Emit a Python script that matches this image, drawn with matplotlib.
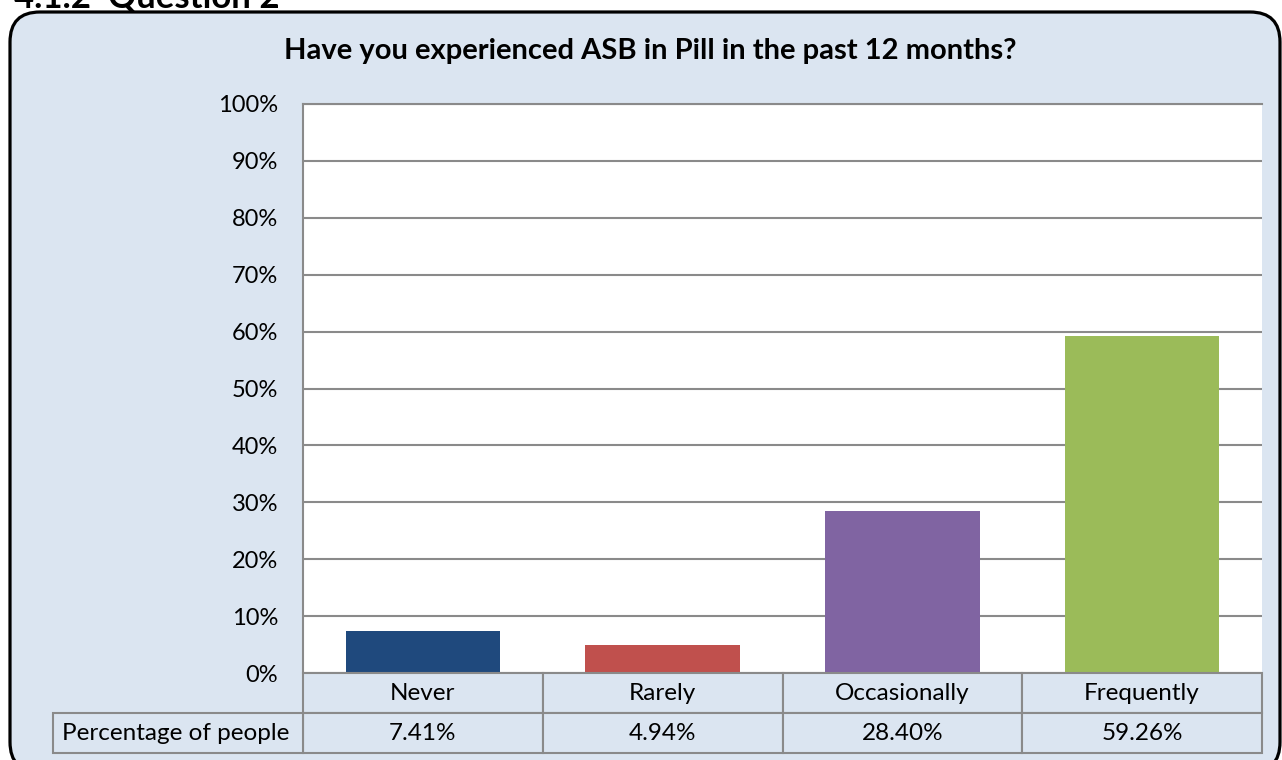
import matplotlib
matplotlib.use("Agg")
import matplotlib.pyplot as plt
from matplotlib.patches import FancyBboxPatch, Rectangle
from matplotlib.ticker import FuncFormatter, MultipleLocator

plt.rcParams["font.family"] = ["Lato", "DejaVu Sans"]

# data
categories = ["Never", "Rarely", "Occasionally", "Frequently"]
percentages = [7.41, 4.94, 28.40, 59.26]
value_labels = ["7.41%", "4.94%", "28.40%", "59.26%"]
row_label = "Percentage of people"
title = "Have you experienced ASB in Pill in the past 12 months?"
heading = "4.1.2  Question 2"
bar_colors = ["#1F497D", "#C0504D", "#8064A2", "#9BBB59"]

BG = "#DBE5F1"
GRID = "#8A8A8A"
W, H = 1282, 760

fig = plt.figure(figsize=(W / 100, H / 100), dpi=100)

# background axes in pixel coordinates
bg = fig.add_axes([0, 0, 1, 1], zorder=0)
bg.set_xlim(0, W)
bg.set_ylim(H, 0)
bg.axis("off")
frame = FancyBboxPatch((10, 12), 1270, 760, boxstyle="round,pad=0,rounding_size=30",
                       facecolor=BG, edgecolor="black", linewidth=2.3)
bg.add_patch(frame)
bg.text(14, 7, heading, fontsize=25, fontweight="bold", va="baseline", ha="left")
bg.text(650, 51, title, fontsize=21, fontweight="bold", ha="center", va="center")

# plot area: x 303-1262, y 104-673 px
left, right, top, bottom = 303, 1262, 104, 673
ax = fig.add_axes([left / W, 1 - bottom / H, (right - left) / W, (bottom - top) / H], zorder=1)
ax.set_facecolor("white")
x = range(len(categories))
ax.bar(x, percentages, width=0.645, color=bar_colors, zorder=3)
ax.set_xlim(-0.5, len(categories) - 0.5)
ax.set_ylim(0, 100)
ax.yaxis.set_major_locator(MultipleLocator(10))
ax.yaxis.set_major_formatter(FuncFormatter(lambda v, p: f"{v:.0f}%"))
ax.grid(axis="y", color=GRID, linewidth=1.5, zorder=1)
ax.set_xticks([])
ax.tick_params(axis="y", length=0, pad=18, labelsize=17)
for s in ["right", "bottom"]:
    ax.spines[s].set_visible(False)
ax.spines["top"].set_color(GRID)
ax.spines["top"].set_linewidth(1.5)
ax.spines["left"].set_color(GRID)
ax.spines["left"].set_linewidth(1.5)

# data table under the axis
row_h = 40 / (bottom - top)
xt = ax.get_xaxis_transform()
for i, (cat, val) in enumerate(zip(categories, value_labels)):
    for r, txt in enumerate([cat, val]):
        y0 = -row_h * (r + 1)
        ax.add_patch(Rectangle((i - 0.5, y0), 1, row_h, transform=xt, clip_on=False,
                               facecolor=BG, edgecolor=GRID, linewidth=1.5, zorder=4))
        ax.text(i, y0 + row_h / 2, txt, transform=xt, ha="center", va="center",
                fontsize=17.5, zorder=5)
lab_x0 = (53 - left) / (right - left)
ax.add_patch(Rectangle((lab_x0, -2 * row_h), -lab_x0, row_h, transform=ax.transAxes,
                       clip_on=False, facecolor=BG, edgecolor=GRID, linewidth=1.5, zorder=4))
ax.text(lab_x0 + 0.009, -1.5 * row_h, row_label, transform=ax.transAxes, ha="left",
        va="center", fontsize=17.5, zorder=5)

fig.savefig("out.png", dpi=100)
